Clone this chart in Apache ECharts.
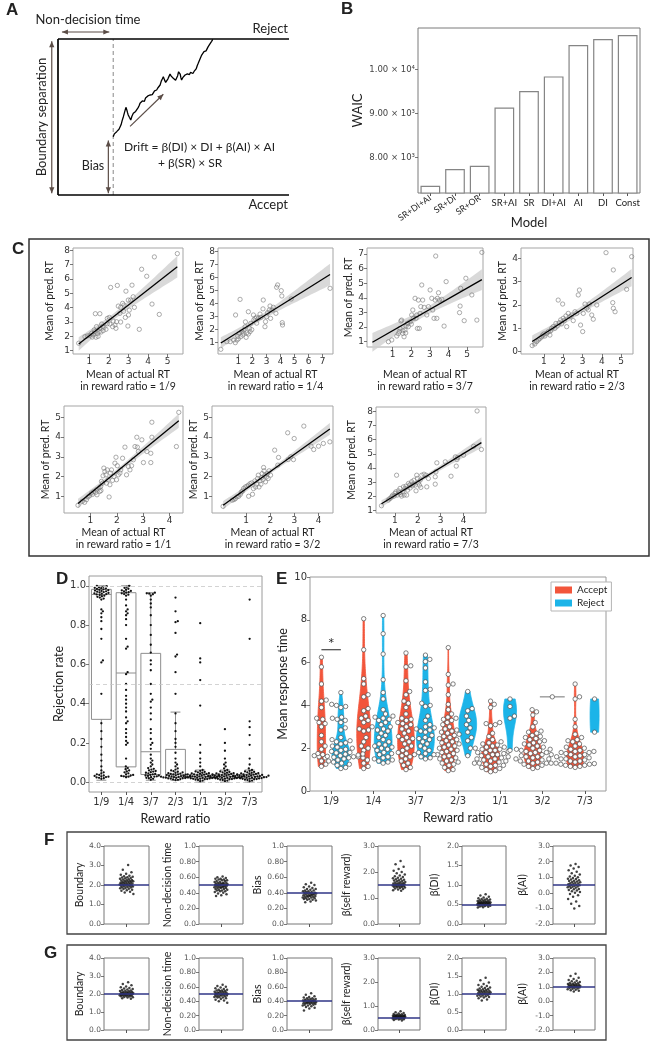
<!DOCTYPE html>
<html>
<head>
<meta charset="utf-8">
<title>Drift diffusion model figure</title>
<script src="https://cdn.jsdelivr.net/npm/echarts@6/dist/echarts.min.js"></script>
<style>
  html, body { margin: 0; padding: 0; background: #fff; }
  #main { width: 651px; height: 1047px; }
</style>
</head>
<body>
<div id="main"></div>
<script>
// ---------- A: schematic drift path (time in % of panel, evidence 0 = accept, 1 = reject) ----------
var walkT = [23.9,24.4,24.9,25.4,25.9,26.4,26.8,27.3,27.8,28.3,28.8,29.1,29.4,29.8,30.1,30.4,30.9,31.5,32.0,32.6,33.1,33.6,34.1,34.7,35.2,35.5,36.0,36.5,36.9,37.4,37.9,38.4,38.9,39.3,39.8,40.3,40.8,41.3,41.8,42.2,42.7,43.2,43.7,44.2,44.7,45.2,45.6,46.1,46.6,47.1,47.6,48.1,48.5,49.0,49.5,49.9,50.4,50.9,51.4,51.8,52.2,52.5,52.9,53.2,53.5,54.0,54.5,55.0,55.5,56.0,56.4,56.9,57.4,57.9,58.4,58.9,59.3,59.8,60.3,60.7,61.2,61.7,62.2,62.7,63.2,63.7,64.1,64.4,64.9,65.5,66.0,66.5,67.0];
var walkE = [0.374,0.392,0.386,0.406,0.402,0.421,0.427,0.45,0.478,0.502,0.53,0.52,0.562,0.545,0.528,0.513,0.498,0.481,0.505,0.524,0.518,0.536,0.545,0.56,0.575,0.588,0.58,0.603,0.609,0.6,0.622,0.62,0.635,0.628,0.641,0.65,0.644,0.652,0.668,0.66,0.673,0.686,0.695,0.705,0.73,0.745,0.758,0.738,0.722,0.72,0.745,0.762,0.776,0.762,0.752,0.748,0.742,0.735,0.737,0.765,0.79,0.801,0.775,0.752,0.737,0.752,0.762,0.769,0.762,0.776,0.78,0.772,0.786,0.784,0.779,0.792,0.79,0.808,0.83,0.844,0.862,0.88,0.897,0.908,0.919,0.912,0.924,0.929,0.948,0.962,0.97,0.985,0.998];
var nonDecision = 23.9;
var startBias = 0.374;
// annotation arrows [x1, y1, x2, y2, double-headed]
var aArrows = [
  [1.7, 1.045, 22.2, 1.045, 1],
  [-2.7, 0.985, -2.7, 0.012, 1],
  [21.8, 0.35, 21.8, 0.012, 1],
  [31.2, 0.44, 45.6, 0.646, 0]
];

// ---------- B: model comparison ----------
var modelNames = ['SR+DI+AI', 'SR+DI', 'SR+OR', 'SR+AI', 'SR', 'DI+AI', 'AI', 'DI', 'Const'];
var waicValues = [7355, 7735, 7811, 9140, 9514, 9847, 10563, 10700, 10791];
var waicTicks = [8000, 9000, 10000];

// ---------- C: predicted vs actual RT ----------
var ratioLabels = ['1/9', '1/4', '3/7', '2/3', '1/1', '3/2', '7/3'];
var fitC19 = [[0.46,1.52],[0.78,1.98],[0.9,2.03],[1.03,2.07],[1.12,2.21],[1.2,2.1],[1.29,2.33],[1.25,2.45],[1.37,2.68],[1.34,1.94],[1.42,2.2],[1.5,2.33],[1.54,2.56],[1.31,3.58],[1.54,3.58],[1.63,2.86],[1.71,2.4],[1.75,2.62],[1.85,2.49],[1.92,2.88],[1.92,3.25],[2.02,3.32],[2.05,2.86],[2.09,5.41],[2.19,2.68],[2.22,3.07],[2.31,2.79],[2.36,2.56],[2.39,3.02],[2.43,5.55],[2.48,4.11],[2.56,3.6],[2.6,4.02],[2.7,4.3],[2.77,4.18],[2.84,3.32],[2.87,5.15],[2.97,2.72],[2.99,4.53],[3.0,3.49],[3.04,3.83],[3.11,4.53],[3.18,5.57],[3.24,4.76],[3.3,4.02],[3.55,2.49],[3.67,6.68],[3.93,6.19],[4.2,4.25],[4.32,7.54],[4.57,3.53],[5.49,7.77],[1.6,2.3],[1.45,2.0],[1.15,1.95],[1.68,2.7],[2.6,3.0],[2.75,3.75]];
var fitC14 = [[-0.25,0.49],[0.18,1.08],[0.42,1.08],[0.66,1.2],[0.78,1.0],[0.9,1.2],[1.07,1.72],[1.17,1.46],[1.24,1.85],[1.31,1.59],[1.4,1.97],[1.48,2.23],[1.55,1.41],[1.6,1.77],[1.71,1.67],[1.79,2.1],[1.83,1.85],[1.88,2.49],[0.8,3.13],[1.12,4.33],[1.71,3.38],[2.07,3.13],[2.19,2.87],[2.3,2.95],[2.42,2.87],[2.54,3.2],[2.77,4.28],[2.89,2.23],[2.93,2.62],[3.0,3.0],[3.08,3.31],[3.2,3.51],[3.25,3.82],[3.29,2.87],[3.48,3.72],[3.67,3.26],[3.72,5.26],[3.79,5.44],[4.05,5.0],[4.09,4.59],[4.12,2.54],[4.14,2.36],[4.76,4.36],[7.52,5.18],[1.0,1.3],[1.35,1.75],[1.95,2.0],[2.1,2.75],[2.6,2.95],[1.5,2.6],[0.95,1.5],[2.3,2.5],[2.75,3.6],[3.4,3.5]];
var fitC37 = [[-0.09,0.48],[0.77,1.0],[0.95,1.12],[1.22,1.39],[1.36,1.69],[1.39,1.91],[1.48,2.48],[1.44,2.42],[1.54,1.57],[1.61,1.34],[1.66,1.8],[1.72,2.07],[1.79,2.26],[1.84,2.03],[1.93,2.37],[2.02,2.83],[2.08,3.17],[2.11,2.6],[2.2,3.97],[2.29,2.83],[2.33,1.91],[2.38,3.85],[2.43,1.91],[2.47,2.94],[2.51,3.4],[2.56,4.88],[2.61,3.85],[2.69,3.35],[2.83,2.83],[2.92,3.4],[3.01,4.54],[3.1,3.97],[3.15,3.17],[3.22,2.6],[3.28,3.85],[3.31,6.86],[3.37,2.6],[3.4,3.97],[3.46,4.35],[3.51,3.85],[3.64,3.9],[3.76,2.07],[3.87,5.11],[4.62,3.44],[4.65,4.65],[4.59,2.99],[4.84,2.44],[4.93,5.34],[5.25,4.2],[5.52,2.48],[5.79,7.11],[1.3,1.55],[1.55,1.75],[1.7,1.6],[2.0,2.2],[2.25,2.6]];
var fitC23 = [[0.39,0.26],[0.53,0.33],[0.62,0.43],[0.71,0.5],[0.79,0.57],[0.88,0.64],[0.93,0.71],[1.0,0.76],[1.05,0.67],[1.14,0.79],[1.23,0.86],[1.31,0.71],[1.35,0.9],[1.4,1.0],[1.48,1.07],[1.57,1.0],[1.62,1.21],[1.69,1.1],[1.74,2.21],[1.8,1.24],[1.87,1.36],[1.92,1.19],[1.97,2.04],[2.0,1.43],[2.06,1.33],[2.14,1.53],[2.18,1.07],[2.26,1.64],[2.35,1.5],[2.44,1.57],[2.52,1.33],[2.61,1.71],[2.7,1.64],[2.78,2.43],[2.84,2.64],[2.9,1.14],[3.04,1.64],[3.01,0.86],[3.13,2.04],[3.22,1.86],[3.3,1.79],[3.36,2.04],[3.48,1.57],[3.56,1.39],[3.74,2.0],[4.22,4.24],[4.57,2.1],[4.6,1.86],[4.6,3.5],[4.69,1.71],[5.29,2.67],[5.55,4.07]];
var fitC11 = [[0.53,0.55],[0.69,0.75],[0.78,0.7],[0.85,0.83],[0.91,0.97],[0.97,1.03],[1.04,1.17],[1.08,1.1],[1.13,1.25],[1.2,1.2],[1.23,1.34],[1.25,1.08],[1.33,1.42],[1.36,1.25],[1.39,1.5],[1.42,1.76],[1.4,1.3],[1.46,1.67],[1.48,2.04],[1.51,2.43],[1.55,2.26],[1.59,2.09],[1.61,1.67],[1.64,2.34],[1.67,1.84],[1.71,0.97],[1.74,1.59],[1.76,2.18],[1.8,2.34],[1.84,1.81],[1.89,2.01],[1.93,2.68],[1.97,2.98],[1.99,1.84],[2.02,2.55],[2.06,2.09],[2.12,2.18],[2.15,2.34],[2.22,2.93],[2.31,3.49],[2.37,2.09],[2.44,2.51],[2.5,2.34],[2.56,2.55],[2.63,2.85],[2.69,3.52],[2.76,3.99],[2.78,3.49],[2.82,3.27],[2.95,3.86],[3.01,2.71],[3.14,3.27],[3.29,3.18],[3.29,2.71],[3.33,3.99],[3.33,4.75],[4.26,3.52],[4.35,5.25]];
var fitC32 = [[0.04,0.49],[0.42,0.8],[0.49,0.83],[0.55,0.88],[0.62,0.97],[0.69,1.0],[0.76,1.1],[0.8,1.22],[0.85,1.27],[0.89,1.39],[0.96,1.47],[1.03,1.51],[1.09,1.56],[1.16,1.64],[1.1,1.0],[1.23,1.68],[1.26,1.1],[1.3,1.39],[1.36,1.78],[1.39,1.47],[1.43,1.61],[1.47,1.9],[1.5,2.07],[1.53,1.47],[1.57,1.78],[1.61,1.61],[1.64,1.95],[1.66,2.15],[1.7,1.85],[1.72,2.46],[1.74,2.29],[1.77,2.07],[1.8,1.73],[1.84,1.98],[1.88,2.15],[1.91,1.9],[1.95,2.29],[2.01,2.07],[2.18,3.34],[2.31,2.58],[2.34,2.97],[2.72,4.22],[2.74,2.86],[2.85,3.0],[2.96,2.86],[2.99,3.93],[3.39,4.56],[3.69,3.54],[3.8,3.37],[4.0,3.54],[4.2,3.68],[4.47,3.76]];
var fitC73 = [[0.41,1.35],[0.71,1.75],[0.78,1.86],[0.85,1.98],[0.9,2.1],[0.96,2.03],[1.0,2.22],[1.04,2.33],[1.07,3.5],[1.1,2.1],[1.15,2.4],[1.19,2.26],[1.22,2.57],[1.25,2.15],[1.29,2.03],[1.34,2.33],[1.37,2.68],[1.4,2.1],[1.44,2.57],[1.48,2.73],[1.51,2.1],[1.55,2.45],[1.59,2.92],[1.63,2.8],[1.66,2.6],[1.69,2.87],[1.73,3.04],[1.77,2.75],[1.81,2.87],[1.83,3.15],[1.88,2.8],[1.92,2.4],[1.95,3.5],[1.98,3.27],[2.02,2.96],[2.07,2.8],[2.1,3.15],[2.13,2.64],[2.17,3.5],[2.27,3.57],[2.36,3.5],[2.39,2.68],[2.46,3.27],[2.76,2.87],[2.76,3.39],[2.79,3.74],[2.83,4.37],[3.2,4.44],[3.45,3.43],[3.64,4.79],[3.68,4.14],[3.71,4.6],[3.74,4.74],[4.0,4.91],[4.44,5.54],[4.59,8.02],[4.78,5.31]];
var fitXLim = [[0.17,5.78],[-0.45,7.73],[-0.38,5.85],[-0.19,5.62],[0,4.51],[-0.42,4.6],[0.17,4.98]];
var fitYLim = [[0.77,8.16],[0.13,8.28],[0.64,7.41],[-0.1,4.44],[0.16,5.57],[0.15,5.58],[0.84,8.3]];
var fitXTicks = [[1,2,3,4,5],[1,2,3,4,5,6,7],[1,2,3,4,5],[1,2,3,4,5],[1,2,3,4],[1,2,3,4],[1,2,3,4]];
var fitYTicks = [[1,2,3,4,5,6,7,8],[1,2,3,4,5,6,7,8],[1,2,3,4,5,6,7],[0,1,2,3,4],[1,2,3,4,5],[1,2,3,4,5],[1,2,3,4,5,6,7,8]];

// ---------- D: rejection rate per participant ----------
// box stats [lower whisker, q1, median, q3, upper whisker]
var rejBox = [[0.01,0.32,0.956,0.982,1.0],[0.03,0.078,0.556,0.965,1.0],[0.01,0.039,0.155,0.656,0.965],[0.01,0.025,0.04,0.167,0.357],[0.0,0.02,0.03,0.04,0.062],[0.0,0.02,0.03,0.04,0.062],[0.0,0.02,0.03,0.04,0.062]];
var rej19 = [1.0,0.998,0.995,0.993,0.99,0.988,0.986,0.984,0.982,0.98,0.978,0.976,0.974,0.972,0.97,0.968,0.966,0.964,0.962,0.96,0.958,0.956,0.953,0.95,0.947,0.944,0.94,0.935,0.93,0.88,0.87,0.86,0.84,0.82,0.78,0.73,0.62,0.61,0.45,0.3,0.26,0.22,0.18,0.14,0.11,0.08,0.06,0.05,0.045,0.04,0.037,0.034,0.032,0.03,0.028,0.026,0.024,0.022,0.02,0.017];
var rej14 = [1.0,0.995,0.99,0.985,0.98,0.977,0.974,0.971,0.968,0.965,0.962,0.958,0.955,0.95,0.93,0.9,0.88,0.87,0.86,0.85,0.83,0.8,0.73,0.69,0.68,0.56,0.55,0.5,0.47,0.44,0.42,0.4,0.38,0.36,0.33,0.31,0.3,0.27,0.25,0.23,0.21,0.2,0.19,0.12,0.08,0.072,0.066,0.06,0.055,0.05,0.045,0.04,0.037,0.034,0.032,0.03,0.028,0.025];
var rej37 = [0.965,0.962,0.96,0.957,0.95,0.93,0.91,0.89,0.85,0.8,0.75,0.7,0.66,0.62,0.6,0.57,0.5,0.45,0.42,0.41,0.38,0.35,0.32,0.27,0.25,0.22,0.2,0.19,0.17,0.14,0.12,0.11,0.1,0.09,0.08,0.072,0.068,0.064,0.06,0.057,0.054,0.051,0.048,0.045,0.042,0.04,0.037,0.034,0.032,0.03,0.028,0.025,0.022,0.02,0.017,0.012];
var rej23 = [0.94,0.87,0.82,0.815,0.76,0.65,0.64,0.56,0.45,0.35,0.3,0.26,0.22,0.2,0.18,0.15,0.12,0.1,0.09,0.08,0.07,0.064,0.06,0.056,0.053,0.05,0.048,0.046,0.044,0.042,0.04,0.039,0.038,0.036,0.035,0.034,0.033,0.032,0.031,0.03,0.029,0.028,0.027,0.026,0.025,0.024,0.023,0.022,0.021,0.02,0.019,0.018,0.016,0.014,0.012,0.01];
var rej11 = [0.81,0.63,0.61,0.52,0.39,0.19,0.15,0.12,0.1,0.08,0.062,0.058,0.055,0.052,0.05,0.048,0.046,0.045,0.043,0.042,0.04,0.039,0.038,0.037,0.036,0.035,0.034,0.033,0.032,0.031,0.03,0.03,0.029,0.028,0.027,0.026,0.025,0.025,0.024,0.023,0.022,0.021,0.02,0.019,0.018,0.017,0.016,0.015,0.013,0.011,0.008,0.005];
var rej32 = [0.27,0.2,0.16,0.12,0.1,0.09,0.08,0.07,0.062,0.058,0.055,0.052,0.05,0.048,0.046,0.045,0.043,0.042,0.04,0.039,0.038,0.037,0.036,0.035,0.034,0.033,0.032,0.031,0.03,0.03,0.029,0.028,0.027,0.026,0.025,0.025,0.024,0.023,0.022,0.021,0.02,0.019,0.018,0.017,0.016,0.015,0.013,0.011,0.008,0.005];
var rej73 = [0.93,0.73,0.31,0.28,0.24,0.19,0.12,0.09,0.07,0.062,0.058,0.055,0.052,0.05,0.048,0.046,0.045,0.043,0.042,0.04,0.039,0.038,0.037,0.036,0.035,0.034,0.033,0.032,0.031,0.03,0.03,0.029,0.028,0.027,0.026,0.025,0.025,0.024,0.023,0.022,0.021,0.02,0.019,0.018,0.017,0.016,0.015,0.013,0.011,0.008,0.005];

// ---------- E: mean response time, accept vs reject ----------
var rtAcc19 = [6.25,5.8,5.0,4.25,4.2,3.9,3.4,3.35,3.2,3.15,3.0,2.6,2.3,2.1,1.95,1.65,1.6,1.55,1.4,1.25,1.15];
var rtRej19 = [4.6,4.05,4.0,3.95,3.9,3.45,3.4,3.35,3.3,3.2,2.95,2.85,2.5,2.4,2.35,2.3,2.25,2.2,2.1,2.05,2.0,1.95,1.9,1.85,1.8,1.78,1.75,1.73,1.72,1.7,1.68,1.65,1.62,1.6,1.58,1.55,1.5,1.45,1.4,1.35,1.3,1.25,1.2,1.1,1.05];
var rtAcc14 = [8.05,6.6,5.25,5.0,4.5,4.4,3.85,3.75,3.5,3.4,3.3,3.2,3.0,2.9,2.85,2.8,2.5,2.3,2.1,2.0,1.9,1.6,1.55,1.45,1.3,1.15,1.05];
var rtRej14 = [8.2,7.35,6.4,5.2,4.6,4.3,3.8,3.6,3.5,3.45,3.4,3.35,3.3,3.2,3.1,3.0,2.9,2.85,2.8,2.7,2.6,2.5,2.4,2.3,2.2,2.15,2.1,2.05,2.0,1.95,1.9,1.8,1.75,1.7,1.6,1.55,1.5,1.45,1.4,1.35,1.3];
var rtAcc37 = [6.45,5.85,5.8,5.15,4.65,4.5,4.2,4.1,3.9,3.6,3.4,3.35,3.3,3.2,3.15,3.1,3.0,2.9,2.8,2.7,2.55,2.5,2.45,2.4,2.3,2.2,2.1,2.0,1.9,1.8,1.75,1.7,1.65,1.6,1.5,1.4,1.3,1.2,1.1,1.0];
var rtRej37 = [6.35,6.15,6.05,5.75,5.1,4.75,4.7,4.1,4.0,3.95,3.5,3.3,3.1,3.0,2.95,2.9,2.85,2.8,2.75,2.6,2.5,2.45,2.4,2.3,2.2,2.1,2.0,1.9,1.8,1.75,1.7,1.6,1.55,1.5];
var rtAcc23 = [6.7,5.45,5.0,4.95,4.5,4.05,3.8,3.6,3.45,3.4,3.35,3.3,3.2,3.1,3.0,2.9,2.85,2.8,2.75,2.7,2.65,2.6,2.55,2.5,2.45,2.4,2.35,2.3,2.25,2.2,2.15,2.1,2.05,2.0,1.95,1.9,1.85,1.8,1.75,1.7,1.65,1.6,1.55,1.5,1.45,1.4,1.35,1.3,1.25,1.2,1.1,1.0,0.95];
var rtRej23 = [4.65,3.85,3.75,3.5,3.3,3.1,2.95,2.75,2.5,2.35,1.65];
var rtAcc11 = [4.2,4.05,3.9,3.2,3.15,3.1,3.05,2.7,2.55,2.4,2.3,2.25,2.2,2.15,2.1,2.05,2.05,2.0,2.0,1.95,1.95,1.9,1.9,1.85,1.8,1.8,1.75,1.7,1.7,1.65,1.6,1.6,1.55,1.5,1.5,1.45,1.4,1.4,1.35,1.3,1.3,1.25,1.2,1.2,1.15,1.1,1.05,1.0,0.95,0.9];
var rtRej11 = [4.3,3.95,3.5,3.4,1.9];
var rtAcc32 = [3.8,3.7,3.55,3.2,3.0,2.8,2.75,2.7,2.6,2.55,2.5,2.45,2.4,2.35,2.3,2.25,2.2,2.15,2.1,2.05,2.0,1.95,1.95,1.9,1.9,1.85,1.8,1.8,1.75,1.7,1.7,1.65,1.6,1.6,1.55,1.5,1.5,1.45,1.4,1.4,1.35,1.3,1.3,1.25,1.2,1.15,1.1,1.05];
var rtRej32 = [4.4];
var rtAcc73 = [5.0,4.4,4.3,3.35,3.0,2.65,2.5,2.4,2.35,2.3,2.2,2.1,2.05,2.0,1.95,1.9,1.85,1.85,1.8,1.8,1.75,1.7,1.7,1.65,1.6,1.6,1.55,1.5,1.5,1.45,1.4,1.4,1.35,1.3,1.3,1.28,1.25,1.25,1.2,1.2,1.15,1.15,1.1];
var rtRej73 = [4.3, 2.75];
var sigMarks = [[0, 6.6]]; // "*" between accept and reject at 1/9

// ---------- F / G: parameter recovery ----------
var paramNames = ['Boundary', 'Non-decision time', 'Bias', 'β(self reward)', 'β(DI)', 'β(AI)'];
var paramMin = [0, 0, 0, 0, 0, -2];
var paramMax = [4, 1, 1, 3, 2, 3];
var paramTicks = [[0,1,2,3,4],[0,0.2,0.4,0.6,0.8,1],[0,0.2,0.4,0.6,0.8,1],[0,1,2,3],[0,0.5,1,1.5,2],[-2,-1,0,1,2,3]];
var truthF = [2.0, 0.5, 0.4, 1.5, 0.5, 0.5];
var truthG = [2.0, 0.5, 0.4, 0.5, 1.0, 1.0];
var fBoundary = [3.02,2.78,2.65,2.58,2.52,2.48,2.45,2.42,2.4,2.38,2.36,2.34,2.32,2.3,2.28,2.26,2.25,2.23,2.22,2.2,2.19,2.18,2.16,2.15,2.14,2.12,2.11,2.1,2.08,2.07,2.06,2.05,2.04,2.02,2.01,2.0,1.98,1.97,1.96,1.95,1.93,1.92,1.9,1.89,1.87,1.85,1.83,1.81,1.79,1.76,1.73,1.7,1.66,1.61,1.54];
var fNdt = [0.61,0.6,0.59,0.58,0.58,0.57,0.57,0.56,0.56,0.55,0.55,0.54,0.54,0.53,0.53,0.53,0.52,0.52,0.52,0.51,0.51,0.51,0.5,0.5,0.5,0.5,0.49,0.49,0.49,0.48,0.48,0.48,0.47,0.47,0.47,0.46,0.46,0.46,0.45,0.45,0.44,0.44,0.43,0.43,0.42,0.42,0.41,0.4,0.39,0.38,0.37,0.36];
var fBias = [0.53,0.51,0.5,0.48,0.47,0.46,0.45,0.45,0.44,0.43,0.43,0.42,0.42,0.41,0.41,0.4,0.4,0.4,0.39,0.39,0.39,0.38,0.38,0.38,0.37,0.37,0.37,0.36,0.36,0.36,0.35,0.35,0.35,0.34,0.34,0.33,0.33,0.32,0.32,0.31,0.31,0.3,0.29,0.28];
var fSelf = [2.42,2.3,2.2,2.12,2.05,2.0,1.95,1.9,1.87,1.84,1.81,1.78,1.76,1.74,1.72,1.7,1.68,1.67,1.65,1.64,1.62,1.61,1.6,1.58,1.57,1.56,1.55,1.54,1.53,1.52,1.51,1.5,1.49,1.48,1.47,1.46,1.45,1.44,1.43,1.42,1.41,1.4,1.38,1.37,1.35,1.33,1.3,1.28];
var fDI = [0.76,0.73,0.7,0.68,0.66,0.65,0.64,0.63,0.62,0.61,0.6,0.6,0.59,0.58,0.58,0.57,0.57,0.56,0.56,0.55,0.55,0.55,0.54,0.54,0.54,0.53,0.53,0.53,0.52,0.52,0.52,0.51,0.51,0.5,0.5,0.5,0.49,0.49,0.48,0.48,0.47,0.47,0.46,0.45,0.44,0.43,0.42];
var fAI = [1.85,1.75,1.65,1.55,1.45,1.35,1.25,1.18,1.1,1.05,1.0,0.95,0.9,0.88,0.85,0.8,0.78,0.75,0.72,0.7,0.68,0.65,0.62,0.6,0.58,0.55,0.52,0.5,0.48,0.45,0.42,0.4,0.38,0.35,0.32,0.3,0.25,0.22,0.18,0.15,0.1,0.05,0.0,-0.08,-0.15,-0.25,-0.4,-0.55,-0.7,-0.85,-1.0];
var gBoundary = [2.65,2.55,2.48,2.42,2.38,2.34,2.3,2.28,2.25,2.22,2.2,2.18,2.16,2.15,2.13,2.12,2.1,2.09,2.08,2.07,2.06,2.05,2.04,2.03,2.02,2.01,2.0,1.99,1.98,1.97,1.96,1.95,1.94,1.93,1.92,1.91,1.9,1.89,1.88,1.86,1.84,1.82,1.8,1.77,1.74];
var gNdt = [0.63,0.61,0.6,0.59,0.58,0.57,0.56,0.56,0.55,0.55,0.54,0.54,0.53,0.53,0.52,0.52,0.52,0.51,0.51,0.51,0.5,0.5,0.5,0.5,0.49,0.49,0.49,0.48,0.48,0.48,0.47,0.47,0.46,0.46,0.45,0.45,0.44,0.43,0.42,0.41,0.4,0.38];
var gBias = [0.51,0.49,0.47,0.46,0.45,0.44,0.44,0.43,0.43,0.42,0.42,0.42,0.41,0.41,0.41,0.4,0.4,0.4,0.4,0.39,0.39,0.39,0.38,0.38,0.38,0.37,0.37,0.37,0.36,0.36,0.35,0.35,0.34,0.34,0.33,0.32,0.31,0.3,0.27];
var gSelf = [0.78,0.74,0.71,0.69,0.67,0.66,0.64,0.63,0.62,0.61,0.6,0.6,0.59,0.58,0.58,0.57,0.57,0.56,0.56,0.55,0.55,0.54,0.54,0.53,0.53,0.52,0.52,0.51,0.51,0.5,0.5,0.49,0.49,0.48,0.47,0.46,0.45,0.44,0.42,0.4];
var gDI = [1.45,1.38,1.32,1.28,1.25,1.22,1.2,1.18,1.17,1.15,1.14,1.13,1.12,1.11,1.1,1.09,1.08,1.08,1.07,1.06,1.05,1.05,1.04,1.03,1.02,1.02,1.01,1.0,1.0,0.99,0.98,0.97,0.96,0.95,0.94,0.93,0.92,0.9,0.88,0.85,0.82];
var gAI = [1.9,1.75,1.62,1.55,1.48,1.42,1.38,1.34,1.3,1.27,1.24,1.22,1.2,1.18,1.16,1.14,1.12,1.1,1.09,1.08,1.06,1.05,1.04,1.02,1.01,1.0,0.98,0.97,0.95,0.93,0.91,0.89,0.86,0.83,0.8,0.76,0.72,0.68];
</script>
<script>
(function(){
  var chart = echarts.init(document.getElementById('main'));
  var TITLE = 'Lato', TICK = 'DejaVu Sans', INK = '#222';
  var grids = [], xAxes = [], yAxes = [], series = [], graphics = [];

  function addGrid(l, t, w, h, border){
    grids.push({left: l, top: t, width: w, height: h, show: !!border, borderColor: border || 'transparent',
      borderWidth: 1, backgroundColor: 'rgba(0,0,0,0)', containLabel: false, outerBoundsMode: 'none'});
    return grids.length - 1;
  }
  function addX(ax){ xAxes.push(ax); return xAxes.length - 1; }
  function addY(ax){ yAxes.push(ax); return yAxes.length - 1; }
  function valueAxis(gi, lim, ticks, fmt, fontSize){
    return {type: 'value', gridIndex: gi, min: lim[0], max: lim[1], splitLine: {show: false},
      axisLine: {show: false, onZero: false},
      axisTick: {show: true, length: 3, lineStyle: {color: '#555', width: 0.8}, customValues: ticks},
      axisLabel: {show: true, customValues: ticks, fontSize: fontSize || 8.5, fontFamily: TICK, color: '#333', margin: 3,
        formatter: fmt || function(v){ return String(v); }}};
  }
  function nameStyle(size){ return {fontSize: size, fontFamily: TITLE, color: INK, lineHeight: size + 1.5}; }
  function txt(s, x, y, o){
    o = o || {};
    return {type: 'text', x: x, y: y, rotation: o.rot || 0, silent: true, z: 100,
      style: {text: s, fontSize: o.size || 12, fontFamily: o.font || TITLE, fontWeight: o.weight || 'normal',
        fill: o.color || INK, align: o.align || 'left', verticalAlign: 'middle'}};
  }
  function arrowEl(p1, p2, both, color){
    var kids = [{type: 'line', shape: {x1: p1[0], y1: p1[1], x2: p2[0], y2: p2[1]}, style: {stroke: color, lineWidth: 1.2}}];
    function head(tip, from){
      var a = Math.atan2(tip[1] - from[1], tip[0] - from[0]), L = 6, W = 2.6;
      var bx = tip[0] - L * Math.cos(a), by = tip[1] - L * Math.sin(a);
      return {type: 'polygon', shape: {points: [tip, [bx + W * Math.sin(a), by - W * Math.cos(a)], [bx - W * Math.sin(a), by + W * Math.cos(a)]]},
        style: {fill: color}};
    }
    kids.push(head(p2, p1));
    if (both) kids.push(head(p1, p2));
    return {type: 'group', children: kids};
  }

  // ---------- A ----------
  var gA = addGrid(58, 39, 231, 156, null);
  var xA = addX({type: 'value', gridIndex: gA, min: 0, max: 100, show: false});
  var yA = addY({type: 'value', gridIndex: gA, min: 0, max: 1, show: false});
  series.push({type: 'line', xAxisIndex: xA, yAxisIndex: yA, silent: true, z: 5, showSymbol: false,
    data: walkT.map(function(t, i){ return [t, walkE[i]]; }), lineStyle: {color: '#000', width: 1.3},
    markLine: {silent: true, symbol: 'none', label: {show: false}, animation: false,
      lineStyle: {color: '#000', width: 1.7, type: 'solid'}, data: [{xAxis: 0}, {yAxis: 0}, {yAxis: 1}]}});
  series.push({type: 'line', xAxisIndex: xA, yAxisIndex: yA, silent: true, showSymbol: false,
    data: [[nonDecision, 0], [nonDecision, 1]], lineStyle: {color: '#888', width: 1, type: [4, 3]}});
  series.push({type: 'custom', xAxisIndex: xA, yAxisIndex: yA, silent: true, clip: false, z: 6,
    data: aArrows, encode: {x: [0, 2], y: [1, 3]},
    renderItem: function(params, api){
      return arrowEl(api.coord([api.value(0), api.value(1)]), api.coord([api.value(2), api.value(3)]), api.value(4), '#5b4d47');
    }});
  graphics.push(txt('A', 6, 10, {size: 17, weight: 'bold', font: 'Liberation Sans'}));
  graphics.push(txt('Non-decision time', 88, 20, {size: 13, align: 'center'}));
  graphics.push(txt('Reject', 288, 29, {size: 13, align: 'right'}));
  graphics.push(txt('Accept', 288, 205, {size: 13, align: 'right'}));
  graphics.push(txt('Bias', 93, 166, {size: 12.5, align: 'center'}));
  graphics.push(txt('Drift = β(DI) × DI + β(AI) × AI', 124, 147, {size: 12}));
  graphics.push(txt('+ β(SR) × SR', 158, 163, {size: 12}));
  graphics.push(txt('Boundary separation', 42, 117, {size: 13, align: 'center', rot: Math.PI / 2}));

  // ---------- B ----------
  var gB = addGrid(418, 28, 222, 165, '#7a7a7a');
  var sup = {3: '³', 4: '⁴'};
  var xB1 = addX({type: 'category', gridIndex: gB, position: 'bottom', data: modelNames,
    axisLine: {show: false, onZero: false}, axisTick: {show: false},
    axisLabel: {interval: 0, rotate: 35, fontSize: 8.8, fontFamily: TITLE, color: INK, margin: 4,
      formatter: function(v, i){ return i < 3 ? v : ''; }}});
  var xB2 = addX({type: 'category', gridIndex: gB, position: 'bottom', data: modelNames,
    axisLine: {show: false, onZero: false},
    axisTick: {show: true, alignWithLabel: true, length: 3, lineStyle: {color: '#555'}},
    axisLabel: {interval: 0, fontSize: 9.5, fontFamily: TITLE, color: INK, margin: 5,
      formatter: function(v, i){ return i >= 3 ? v : ''; }},
    name: 'Model', nameLocation: 'middle', nameGap: 23, nameTextStyle: nameStyle(13)});
  var yB = addY(valueAxis(gB, [7190, 10950], waicTicks, function(v){
    var e = Math.floor(Math.log10(v));
    return (v / Math.pow(10, e)).toFixed(2) + ' × 10' + sup[e];
  }, 8.5));
  yAxes[yB].axisLabel.color = '#444';
  yAxes[yB].name = 'WAIC'; yAxes[yB].nameLocation = 'middle'; yAxes[yB].nameGap = 52; yAxes[yB].nameTextStyle = nameStyle(13);
  series.push({type: 'bar', xAxisIndex: xB1, yAxisIndex: yB, data: waicValues, barCategoryGap: '20%', silent: true,
    itemStyle: {color: '#fff', borderColor: '#858585', borderWidth: 1.2}});
  graphics.push(txt('B', 341, 9, {size: 17, weight: 'bold', font: 'Liberation Sans'}));

  // ---------- C ----------
  var fitPts = [fitC19, fitC14, fitC37, fitC23, fitC11, fitC32, fitC73];
  var cFrames = [[73,248,110,106],[218,248,115,106],[367,248,116,99],[521,248,112,106],[64,406,119,107],[212,406,121,107],[376,407,110,106]];
  var cYGap = [17, 12, 10, 10, 10, 9, 18];
  function regFit(pts){
    var n = pts.length, mx = 0, my = 0, sxx = 0, sxy = 0, sse = 0;
    pts.forEach(function(p){ mx += p[0] / n; my += p[1] / n; });
    pts.forEach(function(p){ sxx += (p[0] - mx) * (p[0] - mx); sxy += (p[0] - mx) * (p[1] - my); });
    var b = sxy / sxx, a = my - b * mx;
    pts.forEach(function(p){ var r = p[1] - a - b * p[0]; sse += r * r; });
    var s = Math.sqrt(sse / (n - 2));
    var xs = pts.map(function(p){ return p[0]; });
    var x0 = Math.min.apply(null, xs), x1 = Math.max.apply(null, xs), band = [];
    for (var k = 0; k <= 40; k++){
      var x = x0 + (x1 - x0) * k / 40, yh = a + b * x;
      var se = 1.99 * s * Math.sqrt(1 / n + (x - mx) * (x - mx) / sxx);
      band.push([x, yh - se, yh + se]);
    }
    return {a: a, b: b, x0: x0, x1: x1, band: band};
  }
  fitPts.forEach(function(pts, i){
    var f = cFrames[i];
    var g = addGrid(f[0], f[1], f[2], f[3], '#a5a5a5');
    var xi = addX(valueAxis(g, fitXLim[i], fitXTicks[i], null, 9));
    xAxes[xi].name = 'Mean of actual RT\nin reward ratio = ' + ratioLabels[i];
    xAxes[xi].nameLocation = 'middle';
    xAxes[xi].nameGap = (i < 4 ? 369 : 527) - (f[1] + f[3]);
    xAxes[xi].nameTextStyle = {fontSize: 10.5, fontFamily: TITLE, color: INK, lineHeight: 12, verticalAlign: 'top'};
    var yi = addY(valueAxis(g, fitYLim[i], fitYTicks[i], null, 9));
    yAxes[yi].name = 'Mean of pred. RT'; yAxes[yi].nameLocation = 'middle'; yAxes[yi].nameGap = cYGap[i];
    yAxes[yi].nameTextStyle = nameStyle(10.5);
    var fit = regFit(pts);
    series.push({type: 'custom', xAxisIndex: xi, yAxisIndex: yi, silent: true, z: 2,
      data: [[fit.x0, fit.band[0][1]]],
      renderItem: (function(band){ return function(params, api){
        var up = [], dn = [];
        band.forEach(function(b){ up.push(api.coord([b[0], b[2]])); dn.push(api.coord([b[0], b[1]])); });
        return {type: 'polygon', shape: {points: up.concat(dn.reverse())}, style: {fill: '#cfcfcf', opacity: 0.8}};
      }; })(fit.band)});
    series.push({type: 'scatter', xAxisIndex: xi, yAxisIndex: yi, data: pts, symbolSize: 4.3, silent: true, z: 3,
      itemStyle: {color: 'rgba(255,255,255,0)', borderColor: '#7d7d7d', borderWidth: 0.8}});
    series.push({type: 'line', xAxisIndex: xi, yAxisIndex: yi, silent: true, showSymbol: false, z: 4,
      data: [[fit.x0, fit.a + fit.b * fit.x0], [fit.x1, fit.a + fit.b * fit.x1]], lineStyle: {color: '#000', width: 1.3}});
  });
  graphics.push({type: 'rect', shape: {x: 29, y: 239, width: 620, height: 317}, style: {fill: 'none', stroke: '#333', lineWidth: 1.5}, silent: true});
  graphics.push(txt('C', 12, 249, {size: 17, weight: 'bold', font: 'Liberation Sans'}));

  // swarm layout: pixel offsets so that dots do not overlap
  function swarm(vals, pxPerUnit, d){
    var order = vals.map(function(v, i){ return i; }).sort(function(a, b){ return vals[a] - vals[b]; });
    var placed = [], out = [];
    order.forEach(function(i){
      var y = vals[i] * pxPerUnit, cands = [0];
      placed.forEach(function(p){
        var dy = y - p.y;
        if (Math.abs(dy) < d){ var dx = Math.sqrt(d * d - dy * dy); cands.push(p.x + dx, p.x - dx); }
      });
      cands.sort(function(a, b){ return Math.abs(a) - Math.abs(b); });
      var best = 0;
      for (var k = 0; k < cands.length; k++){
        var ok = true;
        for (var m = 0; m < placed.length; m++){
          var ex = cands[k] - placed[m].x, ey = y - placed[m].y;
          if (ex * ex + ey * ey < d * d - 1e-6){ ok = false; break; }
        }
        if (ok){ best = cands[k]; break; }
      }
      placed.push({x: best, y: y});
      out[i] = best;
    });
    return out;
  }
  function catAxis(gi){
    return {type: 'category', gridIndex: gi, data: ratioLabels, axisLine: {show: false, onZero: false},
      axisTick: {show: true, alignWithLabel: true, length: 3, lineStyle: {color: '#555'}},
      axisLabel: {interval: 0, fontSize: 10, fontFamily: TICK, color: '#333', margin: 5},
      name: 'Reward ratio', nameLocation: 'middle', nameGap: 20, nameTextStyle: nameStyle(12.5)};
  }

  // ---------- D ----------
  var dTop = 576, dH = 216, dLim = [-0.05, 1.05];
  var gD = addGrid(89, dTop, 173, dH, '#9a9a9a');
  var xD = addX(catAxis(gD));
  var yD = addY(valueAxis(gD, dLim, [0, 0.2, 0.4, 0.6, 0.8, 1], function(v){ return v.toFixed(1); }, 10));
  yAxes[yD].name = 'Rejection rate'; yAxes[yD].nameLocation = 'middle'; yAxes[yD].nameGap = 23; yAxes[yD].nameTextStyle = nameStyle(12.5);
  series.push({type: 'line', xAxisIndex: xD, yAxisIndex: yD, data: [], silent: true,
    markLine: {silent: true, symbol: 'none', label: {show: false}, animation: false,
      lineStyle: {color: '#c8c8c8', width: 0.8, type: [4, 3]}, data: [{yAxis: 0}, {yAxis: 0.5}, {yAxis: 1}]}});
  series.push({type: 'custom', xAxisIndex: xD, yAxisIndex: yD, silent: true, z: 2,
    data: rejBox.map(function(b, c){ return [c].concat(b); }), encode: {x: 0, y: [1, 2, 3, 4, 5]},
    renderItem: function(params, api){
      var c = api.value(0), bw = api.size([1, 0])[0], cx = api.coord([c, 0])[0];
      var half = bw * 0.4, cap = bw * 0.2, st = {stroke: '#8e8e8e', lineWidth: 1, fill: 'none'};
      var y = [1, 2, 3, 4, 5].map(function(k){ return api.coord([c, api.value(k)])[1]; });
      function ln(x1, y1, x2, y2){ return {type: 'line', shape: {x1: x1, y1: y1, x2: x2, y2: y2}, style: st}; }
      return {type: 'group', children: [
        {type: 'rect', shape: {x: cx - half, y: y[3], width: 2 * half, height: y[1] - y[3]}, style: st},
        ln(cx - half, y[2], cx + half, y[2]),
        ln(cx, y[1], cx, y[0]), ln(cx - cap, y[0], cx + cap, y[0]),
        ln(cx, y[3], cx, y[4]), ln(cx - cap, y[4], cx + cap, y[4])
      ]};
    }});
  var rejCols = [rej19, rej14, rej37, rej23, rej11, rej32, rej73];
  var dPx = dH / (dLim[1] - dLim[0]), dDots = [];
  rejCols.forEach(function(vals, c){
    var off = swarm(vals, dPx, 2.5);
    vals.forEach(function(v, i){ dDots.push([c, v, off[i]]); });
  });
  series.push({type: 'custom', xAxisIndex: xD, yAxisIndex: yD, silent: true, z: 3, data: dDots, encode: {x: 0, y: 1},
    renderItem: function(params, api){
      var p = api.coord([api.value(0), api.value(1)]);
      return {type: 'circle', shape: {cx: p[0] + api.value(2), cy: p[1], r: 1.15}, style: {fill: '#111'}};
    }});
  graphics.push(txt('D', 56, 579, {size: 17, weight: 'bold', font: 'Liberation Sans'}));

  // ---------- E ----------
  var eTop = 577, eH = 214, eLim = [0, 10];
  var hueNames = ['Accept', 'Reject'], hueColors = ['#f2553b', '#1cb4e8'];
  var hueShift = 0.23, violinHalf = 0.21;
  var rtData = [[rtAcc19, rtAcc14, rtAcc37, rtAcc23, rtAcc11, rtAcc32, rtAcc73],
                [rtRej19, rtRej14, rtRej37, rtRej23, rtRej11, rtRej32, rtRej73]];
  var gE = addGrid(310, eTop, 296, eH, '#9a9a9a');
  var xE = addX(catAxis(gE));
  var yE = addY(valueAxis(gE, eLim, [0, 2, 4, 6, 8, 10], null, 10));
  yAxes[yE].name = 'Mean response time'; yAxes[yE].nameLocation = 'middle'; yAxes[yE].nameGap = 17; yAxes[yE].nameTextStyle = nameStyle(12.5);

  function kde(vals){
    var n = vals.length;
    if (n < 2) return null;
    var mean = 0; vals.forEach(function(v){ mean += v / n; });
    var sd = 0; vals.forEach(function(v){ sd += (v - mean) * (v - mean); });
    sd = Math.sqrt(sd / (n - 1));
    var bw = sd * Math.pow(n, -0.2);
    var lo = Math.min.apply(null, vals), hi = Math.max.apply(null, vals), ys = [], ds = [];
    for (var k = 0; k <= 60; k++){
      var y = lo + (hi - lo) * k / 60, d = 0;
      for (var i = 0; i < n; i++){ var z = (y - vals[i]) / bw; d += Math.exp(-0.5 * z * z); }
      ys.push(y); ds.push(d / (n * bw * Math.sqrt(2 * Math.PI)));
    }
    return {ys: ys, ds: ds, peak: Math.max.apply(null, ds)};
  }
  var profiles = rtData.map(function(h){ return h.map(kde); });
  var catPeak = ratioLabels.map(function(l, c){
    var m = 0;
    profiles.forEach(function(h){ if (h[c]) m = Math.max(m, h[c].peak); });
    return m;
  });
  hueNames.forEach(function(name, h){
    series.push({type: 'custom', name: name, xAxisIndex: xE, yAxisIndex: yE, silent: true, z: 2,
      itemStyle: {color: hueColors[h]},
      data: rtData[h].map(function(vals, c){ return [c, Math.max.apply(null, vals)]; }), encode: {x: 0, y: 1},
      renderItem: function(params, api){
        var c = api.value(0), bw = api.size([1, 0])[0];
        var cx = api.coord([c, 0])[0] + (h ? 1 : -1) * hueShift * bw;
        var vals = rtData[h][c], prof = profiles[h][c];
        if (!prof){
          var py = api.coord([c, vals[0]])[1];
          return {type: 'line', shape: {x1: cx - violinHalf * 1.4 * bw, y1: py, x2: cx + violinHalf * 1.4 * bw, y2: py},
            style: {stroke: '#8a8a8a', lineWidth: 1.2}};
        }
        var right = [], left = [];
        prof.ys.forEach(function(y, k){
          var p = api.coord([c, y])[1], w = prof.ds[k] / catPeak[c] * violinHalf * bw;
          right.push([cx + w, p]); left.push([cx - w, p]);
        });
        return {type: 'polygon', shape: {points: right.concat(left.reverse())},
          style: {fill: hueColors[h], stroke: hueColors[h], lineWidth: 0.8}};
      }});
  });
  var ePx = eH / (eLim[1] - eLim[0]), eDots = [];
  rtData.forEach(function(hcols, h){
    hcols.forEach(function(vals, c){
      var off = swarm(vals, ePx, 4.9);
      vals.forEach(function(v, i){ eDots.push([c, v, off[i], h]); });
    });
  });
  series.push({type: 'custom', xAxisIndex: xE, yAxisIndex: yE, silent: true, z: 3, data: eDots, encode: {x: 0, y: 1},
    renderItem: function(params, api){
      var bw = api.size([1, 0])[0], p = api.coord([api.value(0), api.value(1)]);
      var x = p[0] + (api.value(3) ? 1 : -1) * hueShift * bw + api.value(2);
      return {type: 'circle', shape: {cx: x, cy: p[1], r: 2.2}, style: {fill: '#fff', stroke: '#4a4a4a', lineWidth: 0.7}};
    }});
  series.push({type: 'custom', xAxisIndex: xE, yAxisIndex: yE, silent: true, z: 4, data: sigMarks, encode: {x: 0, y: 1},
    renderItem: function(params, api){
      var bw = api.size([1, 0])[0], p = api.coord([api.value(0), api.value(1)]);
      return {type: 'group', children: [
        {type: 'line', shape: {x1: p[0] - hueShift * bw, y1: p[1], x2: p[0] + hueShift * bw, y2: p[1]}, style: {stroke: '#222', lineWidth: 1}},
        {type: 'text', style: {text: '*', x: p[0], y: p[1] - 1, fontSize: 11, fontFamily: TICK, fill: '#222', align: 'center', verticalAlign: 'bottom'}}
      ]};
    }});
  graphics.push(txt('E', 276, 579, {size: 17, weight: 'bold', font: 'Liberation Sans'}));

  // ---------- F / G ----------
  var fgLeft = [104, 199, 287, 378, 462, 553], fgWidth = [45, 44, 45, 42, 44, 42], fgGap = [18, 25, 23, 25, 21, 24];
  var fgRows = [
    {top: 846, h: 78, truth: truthF, data: [fBoundary, fNdt, fBias, fSelf, fDI, fAI]},
    {top: 958, h: 72, truth: truthG, data: [gBoundary, gNdt, gBias, gSelf, gDI, gAI]}
  ];
  fgRows.forEach(function(row){
    row.data.forEach(function(vals, c){
      var g = addGrid(fgLeft[c], row.top, fgWidth[c], row.h, '#777');
      var xi = addX({type: 'value', gridIndex: g, min: -1, max: 1, splitLine: {show: false}, axisLine: {show: false, onZero: false},
        axisTick: {show: true, length: 3, customValues: [0], lineStyle: {color: '#555'}}, axisLabel: {show: false}});
      var yi = addY(valueAxis(g, [paramMin[c], paramMax[c]], paramTicks[c], function(v){
        return (c === 1 || c === 2) && v !== 0 && v !== 1 ? v.toFixed(2) : v.toFixed(1);
      }, 7.5));
      yAxes[yi].axisLabel.color = '#555';
      yAxes[yi].name = paramNames[c]; yAxes[yi].nameLocation = 'middle'; yAxes[yi].nameGap = fgGap[c];
      yAxes[yi].nameTextStyle = nameStyle(10.5);
      series.push({type: 'scatter', xAxisIndex: xi, yAxisIndex: yi, silent: true, symbolSize: 2.5,
        itemStyle: {color: '#111'},
        data: vals.map(function(v, i){ return [(((i + 1) * 0.6180339887) % 1 - 0.5) * 0.62, v]; }),
        markLine: {silent: true, symbol: 'none', label: {show: false}, animation: false,
          lineStyle: {color: '#2f3586', width: 1.5, type: 'solid'}, data: [{yAxis: row.truth[c]}]}});
    });
  });
  graphics.push({type: 'rect', shape: {x: 67, y: 832, width: 539, height: 102}, style: {fill: 'none', stroke: '#444', lineWidth: 1.3}, silent: true});
  graphics.push({type: 'rect', shape: {x: 67, y: 945, width: 539, height: 95}, style: {fill: 'none', stroke: '#444', lineWidth: 1.3}, silent: true});
  graphics.push(txt('F', 44, 840, {size: 17, weight: 'bold', font: 'Liberation Sans'}));
  graphics.push(txt('G', 44, 953, {size: 17, weight: 'bold', font: 'Liberation Sans'}));

  chart.setOption({
    animation: false,
    backgroundColor: '#fff',
    grid: grids, xAxis: xAxes, yAxis: yAxes, series: series, graphic: graphics,
    legend: {data: hueNames, left: 551, top: 582, orient: 'vertical', icon: 'rect', itemWidth: 17, itemHeight: 7,
      itemGap: 3, padding: [3, 4, 3, 4], borderColor: '#b5b5b5', borderWidth: 1, backgroundColor: '#fff',
      selectedMode: false, textStyle: {fontSize: 10, fontFamily: TITLE, color: INK}}
  });
})();
</script>
</body>
</html>
